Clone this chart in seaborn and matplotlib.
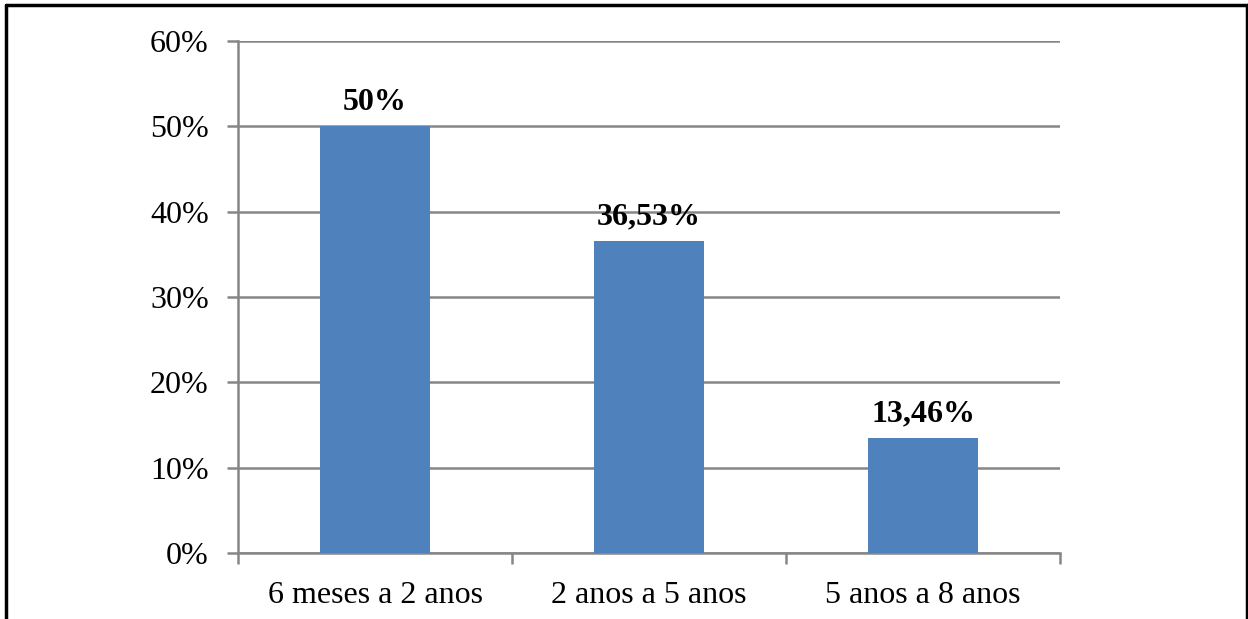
import matplotlib
matplotlib.use("Agg")
import matplotlib.pyplot as plt
from matplotlib.lines import Line2D
from matplotlib.ticker import FixedLocator
import seaborn as sns
import pandas as pd

categories = ["6 meses a 2 anos", "2 anos a 5 anos", "5 anos a 8 anos"]
values = [50.0, 36.53, 13.46]
value_labels = ["50%", "36,53%", "13,46%"]
y_ticks = [0, 10, 20, 30, 40, 50, 60]
y_tick_labels = ["0%", "10%", "20%", "30%", "40%", "50%", "60%"]

sns.set_style("white")
plt.rcParams["font.family"] = ["Liberation Serif", "DejaVu Serif"]
plt.rcParams["text.color"] = "black"
plt.rcParams["xtick.color"] = "black"
plt.rcParams["ytick.color"] = "black"

df = pd.DataFrame({"faixa": categories, "pct": values})

fig = plt.figure(figsize=(12.48, 6.19), dpi=100)
ax = fig.add_axes([238 / 1248, 1 - 553 / 619, (1060 - 238) / 1248, (553 - 41) / 619])

sns.barplot(data=df, x="faixa", y="pct", color="#4F81BD", saturation=1,
            width=0.4, linewidth=0, ax=ax, zorder=3)

grid_color = "#868686"
ax.set_ylim(0, 60)
ax.set_xlim(-0.5, len(categories) - 0.5)
ax.set_yticks(y_ticks)
ax.set_yticklabels(y_tick_labels)
ax.yaxis.grid(True, color=grid_color, linewidth=1.8, zorder=0)
ax.set_axisbelow(True)
ax.set_xlabel("")
ax.set_ylabel("")

for side in ["top", "right"]:
    ax.spines[side].set_visible(False)
for side in ["left", "bottom"]:
    ax.spines[side].set_color(grid_color)
    ax.spines[side].set_linewidth(1.8)

ax.tick_params(axis="y", which="major", length=8, width=1.8, color=grid_color,
               labelcolor="black", labelsize=23, pad=13, left=True)
ax.tick_params(axis="x", which="major", length=0, labelcolor="black",
               labelsize=23, pad=20)
ax.xaxis.set_minor_locator(FixedLocator([i - 0.5 for i in range(len(categories) + 1)]))
ax.tick_params(axis="x", which="minor", length=8, width=1.8, color=grid_color,
               bottom=True)

for i, (v, lab) in enumerate(zip(values, value_labels)):
    ax.annotate(lab, (i, v), xytext=(0, 7), textcoords="offset points",
                ha="center", va="bottom", fontsize=23, fontweight="bold",
                color="black")

# outer frame
frame_kw = dict(color="black", linewidth=2.5, transform=fig.transFigure)
fig.add_artist(Line2D([6 / 1248, 1247 / 1248], [1 - 5 / 619, 1 - 5 / 619], **frame_kw))
fig.add_artist(Line2D([6 / 1248, 6 / 1248], [0, 1 - 5 / 619], **frame_kw))
fig.add_artist(Line2D([1246.5 / 1248, 1246.5 / 1248], [0, 1 - 5 / 619], **frame_kw))

fig.savefig("out.png", dpi=100)
